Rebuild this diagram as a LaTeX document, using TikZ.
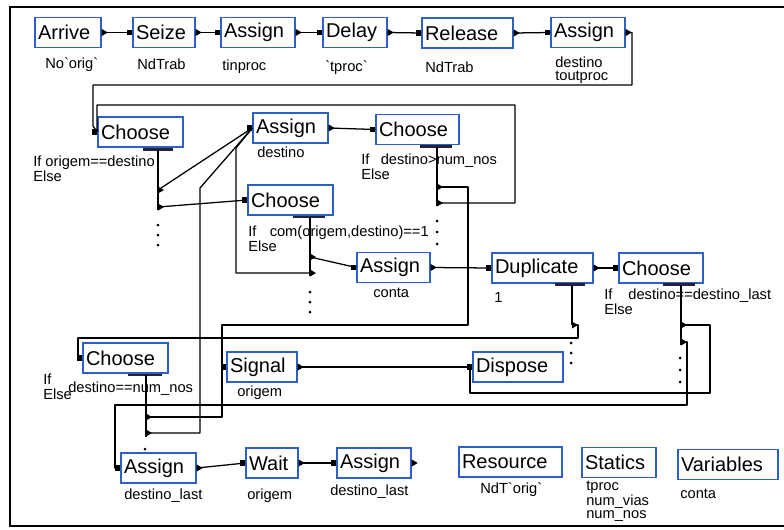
\documentclass[tikz,border=0pt]{standalone}
\usepackage{fontspec}
\setmainfont{Liberation Sans}
\definecolor{boxblue}{RGB}{45,95,200}
\definecolor{barcol}{RGB}{35,35,55}
% exit port: small right-pointing triangle; entry port: small square
\newcommand\exitport[1]{\fill (#1) ++(0,-3.5) -- ++(6,3.5) -- ++(-6,3.5) -- cycle;}
\newcommand\entryport[1]{\fill (#1) ++(-5,-2.8) rectangle ++(5,5.6);}
\newcommand\branchdots[1]{\foreach \yy in {#1} {\fill (\xx,\yy) circle (1.5);}}
\begin{document}
\begin{tikzpicture}[x=0.75pt,y=-0.75pt,
  box/.style={draw=boxblue, line width=1.1pt, fill=white, inner xsep=2.25pt,
    inner ysep=0pt, minimum height=22.5pt, align=left,
    font=\fontsize{15}{17}\selectfont},
  lbl/.style={inner sep=0pt, font=\fontsize{11}{9.75}\selectfont, align=left},
  wire/.style={line width=0.95pt, line join=round},
  bar/.style={line width=1.7pt, draw=barcol}]
\useasboundingbox (0,0) rectangle (784,529);

% frame
\draw[line width=1pt] (784,7) -- (10,7) -- (10,526) -- (784,526);

% ---------- modules ----------
\node[box, text width=45pt]    (arrive)  at (68,32.5)    {Arrive};
\node[box, text width=42pt]    (seize)   at (164,32.5)   {Seize};
\node[box, text width=51pt]    (asg1)    at (258,32.5)   {Assign};
\node[box, text width=43.5pt]  (delay)   at (355,32.5)   {Delay};
\node[box, text width=63.75pt] (release) at (467.5,33)   {Release};
\node[box, text width=51pt]    (asg2)    at (588,32.5)   {Assign};

\node[box, text width=59.25pt] (ch1)  at (140.5,132)  {Choose};
\node[box, text width=51.75pt] (asgD) at (290.5,128)  {Assign};
\node[box, text width=57.75pt] (ch2)  at (417.5,129.5){Choose};
\node[box, text width=59.25pt] (ch3)  at (290.5,200)  {Choose};
\node[box, text width=50.25pt] (asgC) at (393.5,267.5){Assign};
\node[box, text width=71.25pt] (dup)  at (542.5,268)  {Duplicate};
\node[box, text width=58.5pt]  (ch4)  at (661,268)    {Choose};

\node[box, text width=59.25pt] (ch5)  at (125.5,358)  {Choose};
\node[box, text width=48pt]    (sig)  at (262,367)    {Signal};
\node[box, text width=63pt]    (disp) at (518,367)    {Dispose};

\node[box, text width=51.75pt] (asgL)  at (158.5,468) {Assign};
\node[box, text width=34.5pt]  (wait)  at (272,463)   {Wait};
\node[box, text width=51pt]    (asgL2) at (374,463)   {Assign};
\node[box, text width=72.75pt] (res)   at (510.5,462) {Resource};
\node[box, text width=51pt]    (stat)  at (619,462.5) {Statics};
\node[box, text width=70.5pt]  (vars)  at (728,464.5) {Variables};

% ---------- operand labels ----------
\node[lbl, anchor=base west] (l1) at (45,68)  {No\textasciigrave orig\textasciigrave};
\node[lbl, anchor=base west] (l2) at (137,69) {NdTrab};
\node[lbl, anchor=base west] (l3) at (222,70) {tinproc};
\node[lbl, anchor=base west] (l4) at (325,71) {\textasciigrave tproc\textasciigrave};
\node[lbl, anchor=base west] (l5) at (425,72) {NdTrab};
\node[lbl, anchor=north west] (l6) at (555,57) {destino\\toutproc};
\node[lbl, anchor=north west] (l7) at (33,156) {If origem==destino\\Else};
\node[lbl, anchor=base west] (l8) at (257,157) {destino};
\node[lbl, anchor=north west] (l9) at (361,154) {If\hspace{8.5pt}destino>num\_nos\\Else};
\node[lbl, anchor=north west] (l10) at (248,226) {If\hspace{10pt}com(origem,destino)==1\\Else};
\node[lbl, anchor=base west] (l11) at (373,297) {conta};
\node[lbl, anchor=base west] (l12) at (494,302) {1};
\node[lbl, anchor=north west] (l13) at (604,289) {If\hspace{12pt}destino==destino\_last\\Else};
\node[lbl, anchor=north west] (l14) at (43,374) {If\\[1.5pt]Else};
\node[lbl, anchor=base west] (l15) at (68,392) {destino==num\_nos};
\node[lbl, anchor=base west] (l16) at (237,396) {origem};
\node[lbl, anchor=base west] (l17) at (124,499) {destino\_last};
\node[lbl, anchor=base west] (l18) at (247,499) {origem};
\node[lbl, anchor=base west] (l19) at (330,495) {destino\_last};
\node[lbl, anchor=base west] (l20) at (480,493) {NdT\textasciigrave orig\textasciigrave};
\node[lbl, anchor=north west] (l21) at (586,481) {tproc\\num\_vias\\num\_nos};
\node[lbl, anchor=base west] (l22) at (680,498) {conta};

% ---------- branch exits of Choose / Duplicate ----------
\coordinate (c1a) at (158,190);  \coordinate (c1b) at (158,207);
\coordinate (c2a) at (437,187);  \coordinate (c2b) at (437,203);
\coordinate (c3a) at (310,257);  \coordinate (c3b) at (310,273);
\coordinate (c4a) at (681,325);  \coordinate (c4b) at (681,342);
\coordinate (c5a) at (146,417);  \coordinate (c5b) at (146,433);
\coordinate (dupx) at (572,325);

\draw[bar] (143,149.5) -- (173,149.5);  \draw[wire] (158,149.5) -- (158,210);
\draw[bar] (420,146.5) -- (452,146.5);  \draw[wire] (437,146.5) -- (437,206);
\draw[bar] (293,217) -- (325,217);      \draw[wire] (310,217) -- (310,276);
\draw[bar] (555,284.5) -- (585,284.5);  \draw[wire] (572,284.5) -- (572,325);
\draw[bar] (663,284.5) -- (695,284.5);  \draw[wire] (681,284.5) -- (681,345);
\draw[bar] (128,375) -- (162,375);      \draw[wire] (146,375) -- (146,437);

\def\xx{158}\branchdots{225,235,245}
\def\xx{437}\branchdots{221,232,244}
\def\xx{310}\branchdots{292,302,312}
\def\xx{571}\branchdots{343,353,363}
\def\xx{680}\branchdots{358,370,382}
\def\xx{145}\branchdots{449}

% ---------- connectors ----------
\draw[wire] (arrive.east) -- (seize.west);
\draw[wire] (seize.east) -- (asg1.west);
\draw[wire] (asg1.east) -- (delay.west);
\draw[wire] (delay.east) -- (release.west);
\draw[wire] (release.east) -- (asg2.west);
\draw[wire] (asg2.east) -| (632,85) -| (93,126) -- (ch1.west);
\draw[wire] (c2b) -| (515,105) -| (97,127) -- (ch1.west);
\draw[wire] (c1a) -- (asgD.west);
\draw[wire] (c1b) -- (ch3.west);
\draw[wire] (asgD.east) -- (ch2.west);
\draw[wire] (c3a) -- (asgC.west);
\draw[wire] (c3b) -| (236,148) -- (asgD.west);
\draw[wire] (asgC.east) -- (dup.west);
\draw[wire] (dup.east) -- (ch4.west);
\draw[wire] (c2a) -| (468,325) -| (222,367) -- (sig.west);
\draw[wire] (c5a) -| (222,367);
\draw[wire] (c5b) -| (200,188) -- (asgD.west);
\draw[wire] (dupx) -| (578,338) -| (78,358) -- (ch5.west);
\draw[wire] (sig.east) -- (disp.west);
\draw[wire] (c4a) -| (710,393) -| (470,367) -- (disp.west);
\draw[wire] (c4b) -| (687,405) -| (115,468) -- (asgL.west);
\draw[wire] (asgL.east) -- (wait.west);
\draw[wire] (wait.east) -- (asgL2.west);

% ---------- ports ----------
\foreach \m in {arrive,seize,asg1,delay,release,asg2,asgD,asgC,dup,sig,asgL,wait,asgL2}
  {\exitport{\m.east}}
\foreach \m in {seize,asg1,delay,release,asg2,ch1,asgD,ch2,ch3,asgC,dup,ch4,ch5,sig,disp,asgL,wait,asgL2}
  {\entryport{\m.west}}
\foreach \c in {c1a,c1b,c2a,c2b,c3a,c3b,c4a,c4b,c5a,c5b,dupx}
  {\exitport{\c}}
\end{tikzpicture}
\end{document}
